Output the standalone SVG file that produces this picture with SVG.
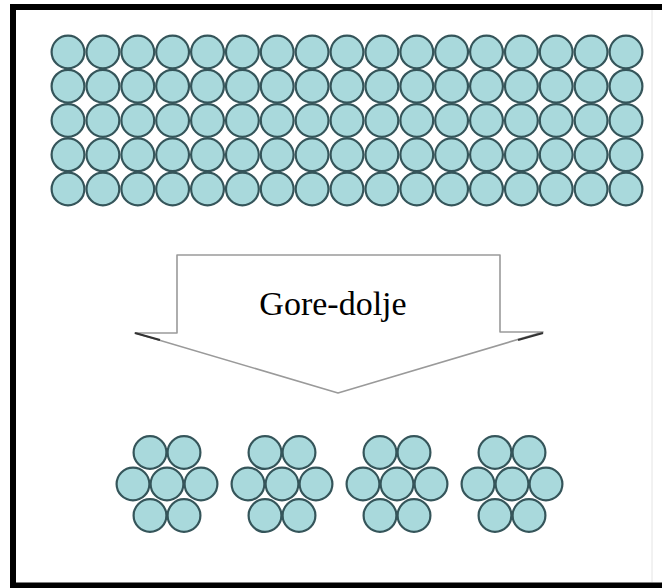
<svg xmlns="http://www.w3.org/2000/svg" xmlns:xlink="http://www.w3.org/1999/xlink" width="662" height="588" viewBox="0 0 662 588">
<style>
.ball{fill:#a9d9dc;stroke:#35555a;stroke-width:2.2}
.frame{stroke:#000;stroke-width:6;fill:none}
.label{font-family:"Liberation Serif","Times New Roman",serif;font-size:34px;fill:#000}
</style>
<defs>
<circle id="b" class="ball" r="16.4"/>
<g id="cluster">
<use xlink:href="#b" x="-17" y="-31.5"/>
<use xlink:href="#b" x="17" y="-31.5"/>
<use xlink:href="#b" x="-34" y="0"/>
<use xlink:href="#b" x="0" y="0"/>
<use xlink:href="#b" x="34" y="0"/>
<use xlink:href="#b" x="-17" y="31.5"/>
<use xlink:href="#b" x="17" y="31.5"/>
</g>
<g id="row">
<use xlink:href="#b" x="68"/><use xlink:href="#b" x="102.9"/><use xlink:href="#b" x="137.8"/><use xlink:href="#b" x="172.6"/>
<use xlink:href="#b" x="207.5"/><use xlink:href="#b" x="242.4"/><use xlink:href="#b" x="277.2"/><use xlink:href="#b" x="312.1"/>
<use xlink:href="#b" x="347"/><use xlink:href="#b" x="381.9"/><use xlink:href="#b" x="416.8"/><use xlink:href="#b" x="451.6"/>
<use xlink:href="#b" x="486.5"/><use xlink:href="#b" x="521.4"/><use xlink:href="#b" x="556.2"/><use xlink:href="#b" x="591.1"/>
<use xlink:href="#b" x="626"/>
</g>
</defs>
<rect width="662" height="588" fill="#fff"/>
<g id="frame">
<line class="frame" x1="10" y1="7" x2="662" y2="7"/>
<line class="frame" x1="13" y1="4" x2="13" y2="588"/>
<line class="frame" x1="10" y1="585.5" x2="662" y2="585.5"/>
<line x1="652" y1="10" x2="652" y2="582" stroke="#e4e4e4" stroke-width="1"/>
</g>
<g id="grid">
<use xlink:href="#row" y="52"/>
<use xlink:href="#row" y="86.2"/>
<use xlink:href="#row" y="120.5"/>
<use xlink:href="#row" y="154.8"/>
<use xlink:href="#row" y="189"/>
</g>
<g id="connectors">
<g id="arrow">
<path d="M177,255 H500 V332 H543 L338,393 L135,333 H177 Z" fill="#fff" stroke="#9a9a9a" stroke-width="1.6" stroke-linejoin="round"/>
<path d="M135,333 L160,340" stroke="#333" stroke-width="2.2"/>
<path d="M543,333 L518,340" stroke="#333" stroke-width="2.2"/>
<text class="label" x="333" y="315" text-anchor="middle">Gore-dolje</text>
</g>
</g>
<g id="cluster1"><use xlink:href="#cluster" x="167" y="484"/></g>
<g id="cluster2"><use xlink:href="#cluster" x="282" y="484"/></g>
<g id="cluster3"><use xlink:href="#cluster" x="397" y="484"/></g>
<g id="cluster4"><use xlink:href="#cluster" x="512" y="484"/></g>
</svg>
